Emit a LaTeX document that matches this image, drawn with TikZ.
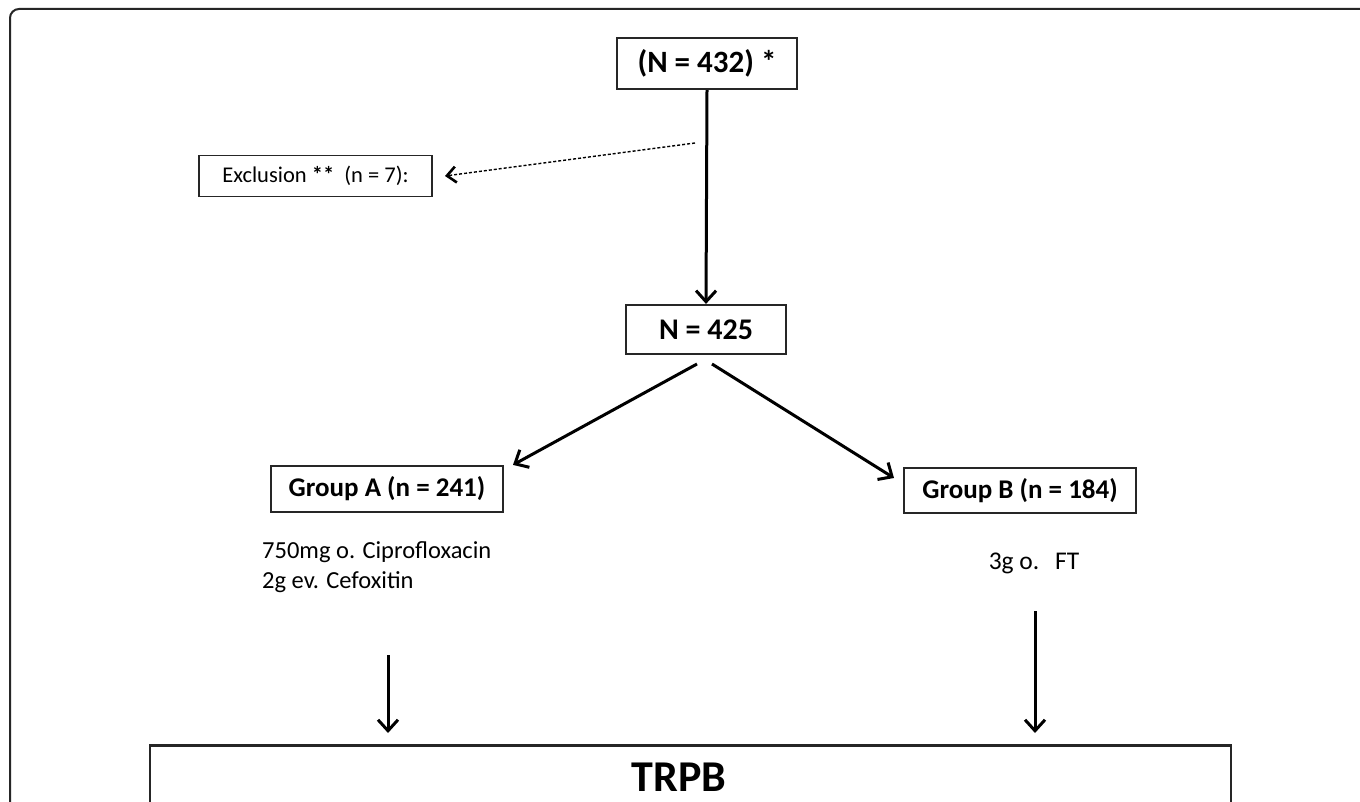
\documentclass[tikz,border=0pt]{standalone}
\usepackage{fontspec}
\setmainfont{Carlito}
\usetikzlibrary{arrows.meta}
\begin{document}
\begin{tikzpicture}[x=1pt,y=-1pt,
  box/.style={draw=black!85,line width=2.2pt,inner sep=0pt,font=\bfseries},
  arr/.style={line width=3pt,-{Straight Barb[length=11pt,width=20pt,line width=3pt]}},
  darr/.style={line width=1.4pt,dash pattern=on 3pt off 2pt,-{Straight Barb[length=9pt,width=16pt,line width=2.6pt]}}]
\useasboundingbox (0,0) rectangle (1360,802);
\fill[white] (0,0) rectangle (1360,802);
% outer frame
\draw[line width=2pt,black!85,rounded corners=9pt] (10,802) -- (10,9) -- (1362,9);
% nodes
\node[box,minimum width=180pt,minimum height=51pt,font=\bfseries\fontsize{31}{34}\selectfont] (n432) at (707,63.5) {(N = 432) *};
\node[box,font=\fontsize{22.5}{26}\selectfont,minimum width=233pt,minimum height=41pt,line width=1.8pt] (excl) at (315.5,176) {Exclusion \textbf{**}\ \ (n = 7):};
\node[box,minimum width=160pt,minimum height=49pt,font=\bfseries\fontsize{30}{33}\selectfont] (n425) at (706,329.5) {N = 425};
\node[box,minimum width=232pt,minimum height=46pt,font=\bfseries\fontsize{27}{30}\selectfont] (ga) at (387,489) {Group A (n = 241)};
\node[box,minimum width=232pt,minimum height=45pt,font=\bfseries\fontsize{27}{30}\selectfont] (gb) at (1020,490.5) {Group B (n = 184)};
\node[anchor=north west,align=left,inner sep=0pt,font=\fontsize{24.5}{30}\selectfont] (ta) at (262,541) {750mg o. Ciprofloxacin\\2g ev. Cefoxitin};
\node[inner sep=0pt,font=\fontsize{25.5}{30}\selectfont] (tb) at (1034,563) {3g o.\ \ \,FT};
\draw[line width=2.2pt,black!85] (150,812) -- (150,745.5) -- (1231,745.5) -- (1231,812);
\node[font=\bfseries\fontsize{44}{48}\selectfont,inner sep=0pt] (trpb) at (679,777) {TRPB};
% connectors
\coordinate (dstart) at (695,143);
\draw[arr] (n432.south) -- (n425.north);
\draw[darr] (dstart) -- (excl.east -| 445,176);
\coordinate (s1) at (697,364);
\coordinate (s2) at (712,364);
\draw[arr] (s1) -- (ga.north east -| 513,470);
\draw[arr] (s2) -- (894,478);
\coordinate (a1) at (388,655);
\coordinate (a2) at (388,733);
\coordinate (b1) at (1035,611);
\coordinate (b2) at (1035,733);
\draw[arr] (a1) -- (a2);
\draw[arr] (b1) -- (b2);
\end{tikzpicture}
\end{document}
